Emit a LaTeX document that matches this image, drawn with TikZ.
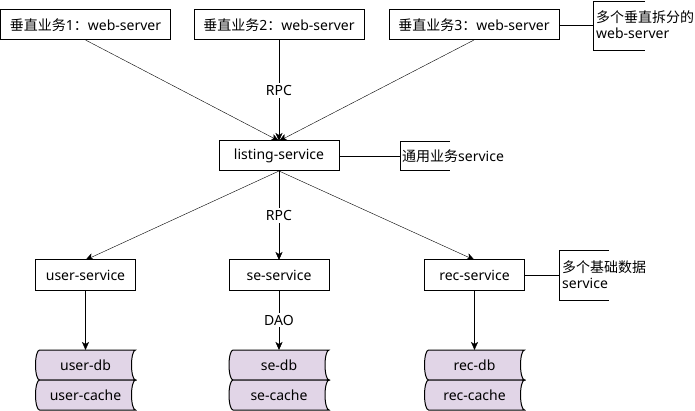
\documentclass[tikz,border=0pt]{standalone}
\usepackage{fontspec}
\setmainfont{Noto Sans}
\newfontfamily\cjk{Noto Sans CJK SC}
\usetikzlibrary{arrows.meta,calc}
\pgfdeclarelayer{background}
\pgfsetlayers{background,main}
\definecolor{storefill}{HTML}{E1D5E7}
\newcommand\dstore[1]{%
\begin{pgfonlayer}{background}
\path[storeshape] ($(#1.north west)+(4,0)$) -- (#1.north east)
 .. controls ($(#1.north east)+(-2.2,0)$) and ($(#1.east)+(-4,-8.3)$) .. ($(#1.east)+(-4,0)$)
 .. controls ($(#1.east)+(-4,8.3)$) and ($(#1.south east)+(-2.2,0)$) .. (#1.south east)
 -- ($(#1.south west)+(4,0)$)
 .. controls ($(#1.south west)+(1.8,0)$) and ($(#1.west)+(0,8.3)$) .. (#1.west)
 .. controls ($(#1.west)+(0,-8.3)$) and ($(#1.north west)+(1.8,0)$) .. cycle;
\end{pgfonlayer}}
\begin{document}
\begin{tikzpicture}[x=1pt,y=-1pt,line width=1pt,
  font=\fontsize{14}{16}\selectfont,
  box/.style={draw,minimum height=30pt,inner sep=0pt,outer sep=0pt},
  topbox/.style={box,minimum width=170pt},
  midbox/.style={box,minimum width=100pt},
  lsbox/.style={box,minimum width=120pt},
  store/.style={minimum width=100pt,minimum height=30pt,inner sep=0pt,outer sep=0pt},
  storeshape/.style={fill=storefill,draw=black,line width=1pt},
  arr/.style={-{Stealth[length=8pt,width=7pt,inset=2pt]}},
  lbl/.style={fill=white,inner sep=2pt},
  note/.style={anchor=west,align=left,inner sep=0pt},
  bracket/.style={draw}]
\useasboundingbox (0,0) rectangle (695,411);

% top row
\node[topbox] (b1) at (85.5,25) {{\cjk 垂直业务}1{\cjk ：}web-server};
\node[topbox] (b2) at (279,25) {{\cjk 垂直业务}2{\cjk ：}web-server};
\node[topbox] (b3) at (474,25) {{\cjk 垂直业务}3{\cjk ：}web-server};

% listing
\node[lsbox] (ls) at (279,156) {listing-service};

% services
\node[midbox] (us) at (85.5,275) {user-service};
\node[midbox] (ss) at (279,275) {se-service};
\node[midbox] (rs) at (474.5,275) {rec-service};

% storage
\node[store] (udb) at (85.5,365) {user-db};
\node[store] (uca) at (85.5,395) {user-cache};
\node[store] (sdb) at (279,365) {se-db};
\node[store] (sca) at (279,395) {se-cache};
\node[store] (rdb) at (474.5,365) {rec-db};
\node[store] (rca) at (474.5,395) {rec-cache};
\dstore{udb}\dstore{uca}\dstore{sdb}\dstore{sca}\dstore{rdb}\dstore{rca}

% annotations
\coordinate (a1) at (593,25);
\draw[bracket] (645,1) -- (593,1) -- (593,50) -- (645,50);
\node[note] (t1) at (596,25) {{\cjk 多个垂直拆分的}\\web-server};
\coordinate (a2) at (400,156);
\draw[bracket] (450,141) -- (400,141) -- (400,170) -- (450,170);
\node[note] (t2) at (402,156) {{\cjk 通用业务}service};
\coordinate (a3) at (559,275);
\draw[bracket] (609,250) -- (559,250) -- (559,300) -- (609,300);
\node[note] (t3) at (562,275) {{\cjk 多个基础数据}\\service};

% connectors
\draw[arr] (b1.south) -- (ls.north);
\draw[arr] (b3.south) -- (ls.north);
\draw[arr] (b2.south) -- node[lbl] {RPC} (ls.north);
\draw[arr] (ls.south) -- (us.north);
\draw[arr] (ls.south) -- (rs.north);
\draw[arr] (ls.south) -- node[lbl] {RPC} (ss.north);
\draw[arr] (us.south) -- (udb.north);
\draw[arr] (ss.south) -- node[lbl] {DAO} (sdb.north);
\draw[arr] (rs.south) -- (rdb.north);

\draw (b3.east) -- (a1);
\draw (ls.east) -- (a2);
\draw (rs.east) -- (a3);
\end{tikzpicture}
\end{document}
